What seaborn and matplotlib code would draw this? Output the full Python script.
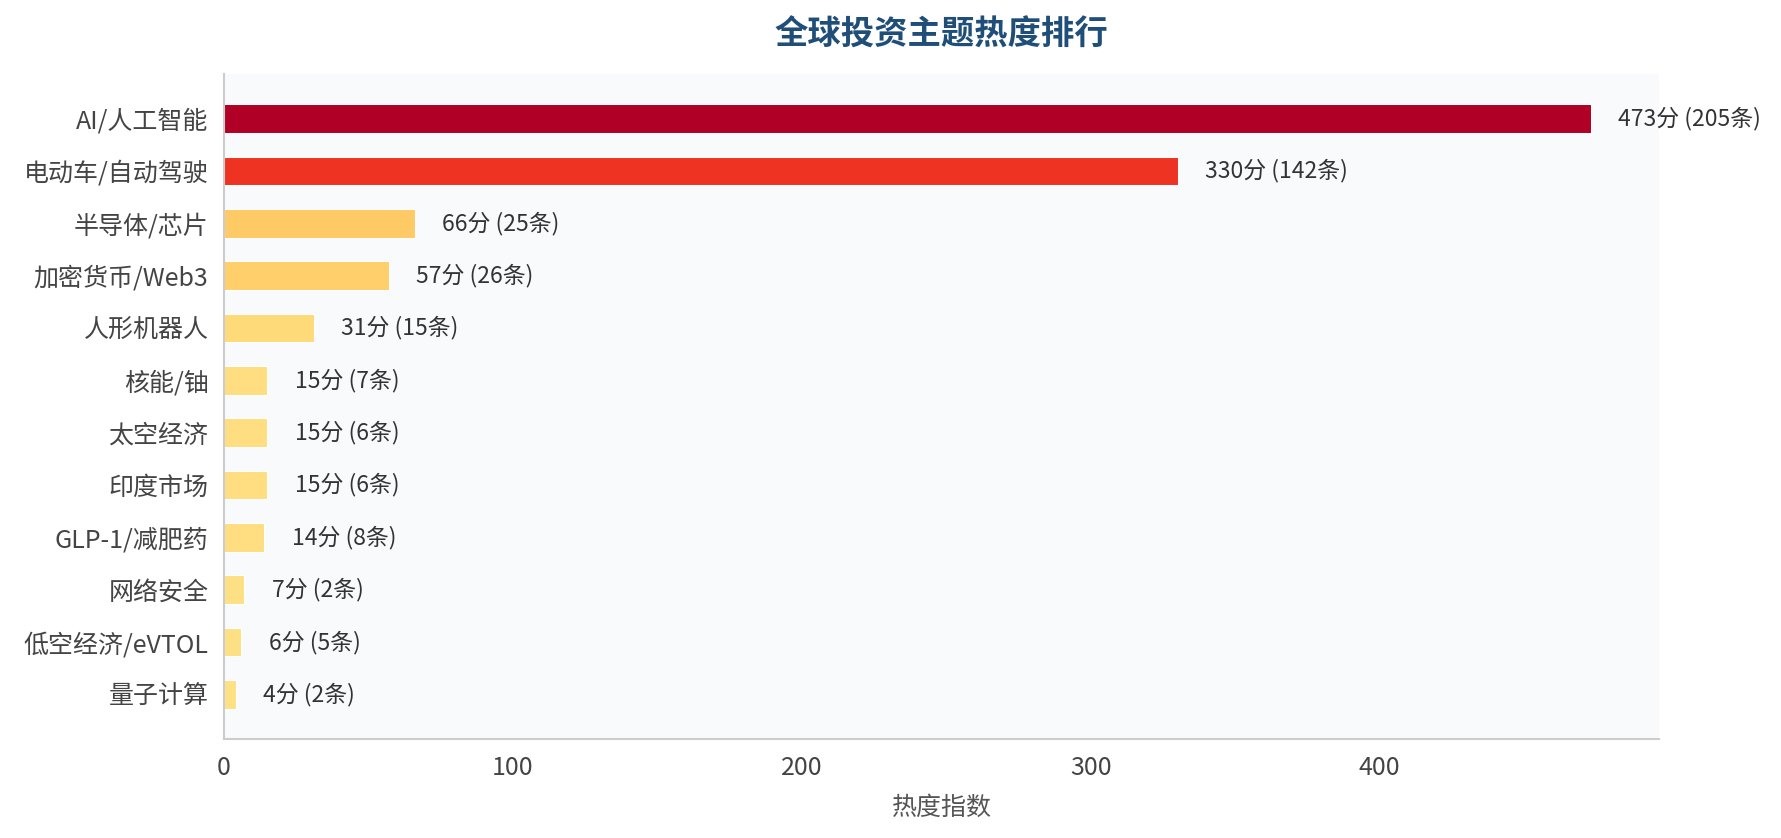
import seaborn as sns
import pandas as pd
import matplotlib.pyplot as plt

themes = ["AI/人工智能", "电动车/自动驾驶", "半导体/芯片", "加密货币/Web3", "人形机器人",
          "核能/铀", "太空经济", "印度市场", "GLP-1/减肥药", "网络安全",
          "低空经济/eVTOL", "量子计算"]
scores = [473, 330, 66, 57, 31, 15, 15, 15, 14, 7, 6, 4]
counts = [205, 142, 25, 26, 15, 7, 6, 6, 8, 2, 5, 2]

sns.set_style("white")
plt.rcParams['font.family'] = ['Noto Sans CJK SC', 'DejaVu Sans']

df = pd.DataFrame({"theme": themes, "score": scores, "count": counts})
top = max(scores)
colors = [plt.cm.YlOrRd(0.2 + 0.7 * s / top) for s in scores]

fig = plt.figure(figsize=(1781 / 150, 838 / 150), dpi=150)
ax = fig.add_axes([0.1258, 0.1181, 0.9315 - 0.1258, 0.9117 - 0.1181])
ax.set_facecolor("#f9fafc")

bar_h = 0.55
sns.barplot(data=df, x="score", y="theme", hue="theme", palette=colors,
            legend=False, width=bar_h, edgecolor="white", linewidth=0.5,
            saturation=1, orient="h", ax=ax)

n = len(themes)
pad = 0.05 * (n - 1 + bar_h)
ax.set_ylim(n - 1 + bar_h / 2 + pad, -bar_h / 2 - pad)
ax.set_xlim(0, top * 1.05)

for i, (s, c) in enumerate(zip(scores, counts)):
    ax.text(s + top * 0.02, i, f"{s}分 ({c}条)", va="center", ha="left",
            fontsize=11, color="#333333")

ax.set_title("全球投资主题热度排行", fontsize=16, fontweight="bold",
             color="#1f4e79", pad=14)
ax.set_xlabel("热度指数", fontsize=12, color="#555555", labelpad=7)
ax.set_ylabel("")
ax.tick_params(axis="both", labelsize=12, labelcolor="#444444", colors="#444444",
               length=4, width=0.8)
for sp in ["top", "right"]:
    ax.spines[sp].set_visible(False)
for sp in ["left", "bottom"]:
    ax.spines[sp].set_color("#cccccc")
    ax.spines[sp].set_linewidth(1.0)

fig.savefig("out.png", dpi=150)
